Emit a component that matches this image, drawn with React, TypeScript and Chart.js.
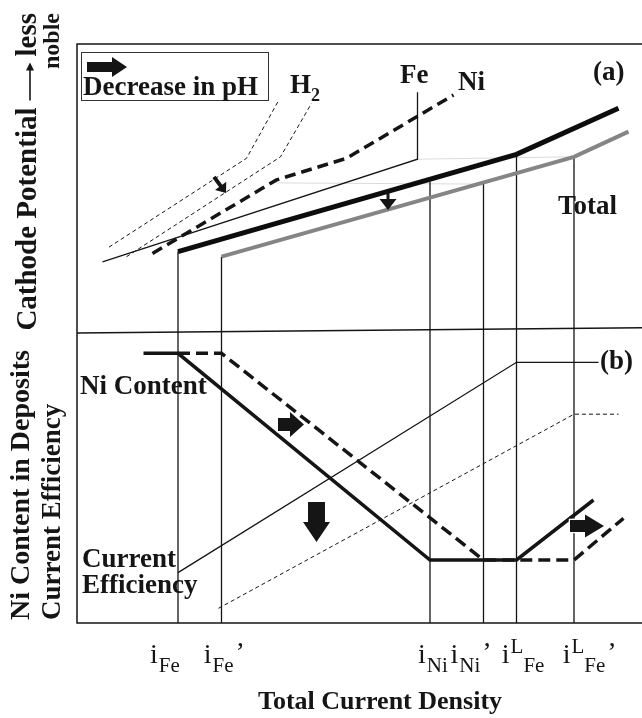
import React, { useEffect, useRef } from "react";
import { Chart, registerables } from "chart.js";

Chart.register(...registerables);

type Pt = [number, number];

// Characteristic current densities marked on the shared x-axis
const tickValues = [20.2, 28.9, 70.6, 81.3, 87.9, 99.4];
const tickLabels = [
  { base: "i", sup: "", sub: "Fe", prime: false },
  { base: "i", sup: "", sub: "Fe", prime: true },
  { base: "i", sup: "", sub: "Ni", prime: false },
  { base: "i", sup: "", sub: "Ni", prime: true },
  { base: "i", sup: "L", sub: "Fe", prime: false },
  { base: "i", sup: "L", sub: "Fe", prime: true },
];

// (a) polarization curves: [total current density, cathode potential]
const totalCurve: Pt[] = [[20.2, 26.8], [87.9, 59.2], [108.3, 74.6]];
const totalCurveLowPH: Pt[] = [[28.9, 25.1], [99.4, 58.4], [110.3, 66.8]];
const feCurve: Pt[] = [[5.1, 23.4], [68.1, 57.6], [68.1, 79.9]];
const niCurve: Pt[] = [[15.1, 26.2], [39.9, 50.7], [53.9, 57.9], [75.3, 79.0]];
const h2Curve: Pt[] = [[6.4, 28.3], [33.9, 57.9], [40.3, 77.1]];
const h2CurveLowPH: Pt[] = [[9.9, 25.1], [40.7, 58.4], [46.9, 76.2]];
const guideUpper: Pt[] = [[68.1, 57.6], [99.4, 58.4]];
const guideLower: Pt[] = [[39.9, 49.7], [81.3, 49.3]];
// potential at which each vertical marker starts (same order as tickValues)
const markerTops = [26.8, 25.1, 50.1, 49.3, 59.2, 58.4];
const panelDivider: Pt[] = [[0, -0.3], [113, 1.4]];

// (b) Ni content in deposits and current efficiency
const niContent: Pt[] = [[13.3, 89.9], [20.2, 89.9], [70.6, 21.0], [87.9, 21.0], [103.3, 41.0]];
const niContentLowPH: Pt[] = [[20.2, 89.9], [28.9, 89.9], [81.3, 21.0], [99.4, 21.0], [109.3, 34.9]];
const efficiency: Pt[] = [[20.2, 16.8], [87.9, 86.9], [104.3, 86.9]];
const efficiencyLowPH: Pt[] = [[28.3, 4.9], [99.4, 69.6], [108.3, 69.6]];

// shift arrows (direction of change as pH decreases)
const shiftArrows = [
  { axis: "yA", from: [27.4, 51.7], to: [29.8, 46.3], shaft: 4, head: 14, headLen: 9, outline: false },
  { axis: "yA", from: [62.2, 46.6], to: [62.2, 40.7], shaft: 3, head: 17, headLen: 11, outline: false },
  { axis: "yB", from: [40.2, 66.2], to: [45.4, 66.2], shaft: 13, head: 25, headLen: 14, outline: true },
  { axis: "yB", from: [47.9, 40.3], to: [47.9, 27.0], shaft: 17, head: 27, headLen: 20, outline: true },
  { axis: "yB", from: [98.6, 32.3], to: [105.4, 32.3], shaft: 12, head: 23, headLen: 19, outline: true },
];

// text annotations: left edge and baseline in data units
const annotations = [
  { text: "Fe", x: 64.6, y: 83.0, axis: "yA" },
  { text: "Ni", x: 76.2, y: 80.7, axis: "yA" },
  { text: "(a)", x: 103.2, y: 84.0, axis: "yA" },
  { text: "Total", x: 96.2, y: 39.3, axis: "yA" },
  { text: "(b)", x: 104.6, y: 84.7, axis: "yB" },
  { text: "Ni Content", x: 0.6, y: 76.3, axis: "yB" },
  { text: "Current", x: 1.0, y: 18.7, axis: "yB" },
  { text: "Efficiency", x: 1.0, y: 10.0, axis: "yB" },
];
const h2Label = { x: 42.6, y: 79.7 };

const INK = "#151515";
const SERIF = '"Liberation Serif", "Times New Roman", serif';
const TICK_LABEL_SHIFT = [-28, -17.7, -12, -33, -14.7, -11.3];

const toXY = (arr: Pt[]) => arr.map(([x, y]) => ({ x, y }));

function blockArrow(
  ctx: CanvasRenderingContext2D,
  x0: number, y0: number, x1: number, y1: number,
  shaft: number, head: number, headLen: number, outline = false
) {
  const dx = x1 - x0, dy = y1 - y0;
  const len = Math.hypot(dx, dy);
  const ux = dx / len, uy = dy / len;
  const px = -uy, py = ux;
  const bx = x1 - ux * headLen, by = y1 - uy * headLen;
  ctx.beginPath();
  ctx.moveTo(x0 + (px * shaft) / 2, y0 + (py * shaft) / 2);
  ctx.lineTo(bx + (px * shaft) / 2, by + (py * shaft) / 2);
  ctx.lineTo(bx + (px * head) / 2, by + (py * head) / 2);
  ctx.lineTo(x1, y1);
  ctx.lineTo(bx - (px * head) / 2, by - (py * head) / 2);
  ctx.lineTo(bx - (px * shaft) / 2, by - (py * shaft) / 2);
  ctx.lineTo(x0 - (px * shaft) / 2, y0 - (py * shaft) / 2);
  ctx.closePath();
  if (outline) {
    ctx.save();
    ctx.strokeStyle = "#ffffff";
    ctx.lineWidth = 2.5;
    ctx.lineJoin = "miter";
    ctx.stroke();
    ctx.restore();
  }
  ctx.fill();
}

const diagramPlugin = {
  id: "diagram",
  beforeDatasetsDraw(chart: any) {
    const { ctx, chartArea: a } = chart;
    ctx.save();
    ctx.strokeStyle = INK;
    ctx.lineWidth = 1.5;
    ctx.beginPath();
    ctx.moveTo(a.right, a.top);
    ctx.lineTo(a.left, a.top);
    ctx.lineTo(a.left, a.bottom);
    ctx.lineTo(a.right, a.bottom);
    ctx.stroke();
    ctx.restore();
  },
  afterDatasetsDraw(chart: any) {
    const { ctx, chartArea: a, scales } = chart;
    const xs = scales.x;
    ctx.save();
    ctx.fillStyle = INK;

    // shift arrows
    shiftArrows.forEach((ar) => {
      const ys = scales[ar.axis];
      blockArrow(
        ctx,
        xs.getPixelForValue(ar.from[0]), ys.getPixelForValue(ar.from[1]),
        xs.getPixelForValue(ar.to[0]), ys.getPixelForValue(ar.to[1]),
        ar.shaft, ar.head, ar.headLen, ar.outline
      );
    });

    // curve and panel labels
    ctx.textBaseline = "alphabetic";
    ctx.textAlign = "left";
    ctx.font = `bold 27px ${SERIF}`;
    annotations.forEach((t) => {
      ctx.fillText(t.text, xs.getPixelForValue(t.x), scales[t.axis].getPixelForValue(t.y));
    });
    const hx = xs.getPixelForValue(h2Label.x);
    const hy = scales.yA.getPixelForValue(h2Label.y);
    ctx.fillText("H", hx, hy);
    const hw = ctx.measureText("H").width;
    ctx.font = `bold 18px ${SERIF}`;
    ctx.fillText("2", hx + hw, hy + 8);

    // pH legend box
    const bx = a.left + 4, by = a.top + 8;
    ctx.strokeStyle = "#333";
    ctx.lineWidth = 1;
    ctx.strokeRect(bx + 0.5, by + 0.5, 187, 48);
    blockArrow(ctx, bx + 6, by + 15, bx + 46, by + 15, 10, 20, 15);
    ctx.font = `bold 27px ${SERIF}`;
    ctx.fillText("Decrease in pH", bx + 2, by + 43);

    // x tick labels
    const baseY = a.bottom + 40;
    tickValues.forEach((v, i) => {
      const lab = tickLabels[i];
      let x = xs.getPixelForValue(v) + TICK_LABEL_SHIFT[i];
      ctx.font = `28px ${SERIF}`;
      ctx.fillText(lab.base, x, baseY);
      x += ctx.measureText(lab.base).width + 1;
      ctx.font = `21px ${SERIF}`;
      if (lab.sup) {
        ctx.fillText(lab.sup, x, baseY - 10);
        x += ctx.measureText(lab.sup).width;
      }
      ctx.fillText(lab.sub, x, baseY + 9);
      x += ctx.measureText(lab.sub).width + 2;
      if (lab.prime) {
        ctx.font = `28px ${SERIF}`;
        ctx.fillText("\u2019", x, baseY - 2);
      }
    });

    // x-axis title
    ctx.font = `bold 26px ${SERIF}`;
    ctx.textAlign = "center";
    ctx.fillText("Total Current Density", 380, a.bottom + 86);

    // y-axis titles (rotated, reading bottom to top)
    const vText = (text: string, cx: number, y: number, align: CanvasTextAlign) => {
      ctx.save();
      ctx.translate(cx, y);
      ctx.rotate(-Math.PI / 2);
      ctx.textAlign = align;
      ctx.textBaseline = "middle";
      ctx.fillText(text, 0, 0);
      ctx.restore();
    };

    // "Cathode Potential → less" with a long arrow, ending near the top edge
    ctx.save();
    ctx.translate(29, 13);
    ctx.rotate(-Math.PI / 2);
    ctx.font = `bold 29px ${SERIF}`;
    ctx.textAlign = "right";
    ctx.textBaseline = "middle";
    ctx.fillText("less", 0, 0);
    const lessW = ctx.measureText("less").width;
    const arrowEnd = -(lessW + 6);
    const arrowStart = arrowEnd - 38;
    ctx.strokeStyle = INK;
    ctx.lineWidth = 1.6;
    ctx.beginPath();
    ctx.moveTo(arrowStart, 1);
    ctx.lineTo(arrowEnd - 2, 1);
    ctx.stroke();
    ctx.beginPath();
    ctx.moveTo(arrowEnd, 1);
    ctx.lineTo(arrowEnd - 8, -3);
    ctx.lineTo(arrowEnd - 8, 5);
    ctx.closePath();
    ctx.fill();
    ctx.fillText("Cathode Potential", arrowStart - 7, 0);
    ctx.restore();

    ctx.font = `bold 24px ${SERIF}`;
    vText("noble", 53, 13, "right");
    ctx.font = `bold 28px ${SERIF}`;
    vText("Ni Content in Deposits", 22, 620, "left");
    ctx.font = `bold 27px ${SERIF}`;
    vText("Current Efficiency", 53, 620, "left");

    ctx.restore();
  },
};

export default function App() {
  const canvasRef = useRef<HTMLCanvasElement | null>(null);

  useEffect(() => {
    const canvas = canvasRef.current;
    if (!canvas) return;

    const line = (data: Pt[], axis: string, color: string, width: number, dash: number[] = []) => ({
      data: toXY(data),
      yAxisID: axis,
      showLine: true,
      borderColor: color,
      backgroundColor: color,
      borderWidth: width,
      borderDash: dash,
      pointRadius: 0,
      fill: false,
      tension: 0,
    });

    const markers = tickValues.map((v, i) =>
      line([[v, markerTops[i]], [v, -97]], "yA", INK, 1.3)
    );

    const chart = new Chart(canvas, {
      type: "scatter",
      data: {
        datasets: [
          line(totalCurve, "yA", "#0d0d0d", 5),
          line(totalCurveLowPH, "yA", "#858585", 4),
          line(niCurve, "yA", INK, 3.5, [11, 6]),
          line(feCurve, "yA", INK, 1.3),
          line(h2Curve, "yA", INK, 1, [4, 3]),
          line(h2CurveLowPH, "yA", INK, 1, [4, 3]),
          line(niContent, "yB", INK, 3.5),
          line(niContentLowPH, "yB", INK, 3.5, [12, 6]),
          line(efficiency, "yB", INK, 1.3),
          line(efficiencyLowPH, "yB", INK, 1, [4, 3]),
          ...markers,
          line(panelDivider, "yA", INK, 1.5),
          line(guideUpper, "yA", "#b5b5b5", 1, [1, 1]),
          line(guideLower, "yA", "#b5b5b5", 1, [1, 1]),
        ] as any,
      },
      options: {
        responsive: false,
        devicePixelRatio: 1,
        animation: false,
        layout: { padding: { left: 77, top: 44, right: 0, bottom: 95 } },
        plugins: { legend: { display: false }, tooltip: { enabled: false } },
        scales: {
          x: { type: "linear", min: 0, max: 113, display: false },
          yA: { type: "linear", min: -97, max: 96, display: false },
          yB: { type: "linear", min: 0, max: 193, display: false },
        },
      },
      plugins: [diagramPlugin],
    });

    return () => chart.destroy();
  }, []);

  return (
    <div style={{ position: "absolute", left: 0, top: 0, width: 642, height: 718, background: "#fff" }}>
      <canvas ref={canvasRef} width={642} height={718} style={{ display: "block" }} />
    </div>
  );
}
